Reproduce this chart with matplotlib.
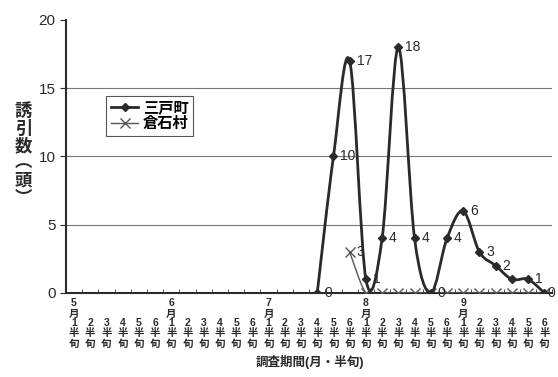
import matplotlib.pyplot as plt
import numpy as np
from matplotlib.path import Path
from matplotlib.patches import PathPatch
from matplotlib.lines import Line2D

plt.rcParams['font.family'] = ['Liberation Sans', 'Noto Sans CJK JP', 'DejaVu Sans']

months = ["5", "6", "7", "8", "9"]
halves = ["1", "2", "3", "4", "5", "6"]

# 半旬 index 0 = 5月1半旬 ... 29 = 9月6半旬
sannohe_start = 15
sannohe = [0, 10, 17, 1, 4, 18, 4, 0, 4, 6, 3, 2, 1, 1, 0]
sannohe_labels = ["0", "10", "17", "1", "4", "18", "4", "0", "4", "6", "3", "2", "", "1", "0"]

kuraishi_start = 17
kuraishi = [3, 0, 0, 0, 0, 0, 0, 0, 0, 0, 0, 0, 0]

INK = "#2a2a2a"


def smooth_path(xs, ys):
    # Bezier smoothing in the style of office chart "smoothed line"
    pts = np.column_stack([xs, ys]).astype(float)
    n = len(pts)
    verts = [pts[0]]
    codes = [Path.MOVETO]
    for i in range(n - 1):
        p0 = pts[i - 1] if i > 0 else pts[i]
        p1 = pts[i]
        p2 = pts[i + 1]
        p3 = pts[i + 2] if i + 2 < n else pts[i + 1]
        c1 = p1 + (p2 - p0) / 6.0
        c2 = p2 - (p3 - p1) / 6.0
        verts += [c1, c2, p2]
        codes += [Path.CURVE4] * 3
    return Path(verts, codes)


fig = plt.figure(figsize=(5.58, 3.77), dpi=100)
ax = fig.add_axes([0.118, 0.223, 0.872, 0.724])

x1 = np.arange(sannohe_start, sannohe_start + len(sannohe))
x2 = np.arange(kuraishi_start, kuraishi_start + len(kuraishi))

ax.add_patch(PathPatch(smooth_path(x2, kuraishi), fill=False, ec="#555555", lw=1.0, zorder=3))
ax.plot(x2, kuraishi, ls="none", marker="x", ms=7, mew=1.0, color="#555555", zorder=4)

ax.add_patch(PathPatch(smooth_path(x1, sannohe), fill=False, ec=INK, lw=2.0, zorder=5))
ax.plot(x1, sannohe, ls="none", marker="D", ms=4, color=INK, zorder=6)

for x, y, s in zip(x1, sannohe, sannohe_labels):
    if s:
        off = 2 if x == x1[-1] else 5
        ax.annotate(s, (x, y), xytext=(off, 0), textcoords="offset points",
                    ha="left", va="center", fontsize=10, color=INK, zorder=7,
                    annotation_clip=False)
ax.annotate(str(kuraishi[0]), (x2[0], kuraishi[0]), xytext=(5, 0),
            textcoords="offset points", ha="left", va="center", fontsize=10,
            color=INK, zorder=2)

ax.set_xlim(-0.5, 29.5)
ax.set_ylim(0, 20)
ax.set_yticks([0, 5, 10, 15, 20])
ax.tick_params(axis="y", labelsize=11, length=4, direction="out", colors=INK)
for y in (5, 10, 15):
    ax.axhline(y, color="#777777", lw=0.8, zorder=1)

labels = []
for m in months:
    for h in halves:
        top = f"{m}\n月" if h == "1" else "\n"
        labels.append(f"{top}\n{h}\n半\n旬")
ax.set_xticks(np.arange(30))
ax.set_xticklabels(labels, fontsize=7.5, fontweight="bold", linespacing=1.0, color=INK)
ax.tick_params(axis="x", length=0, pad=4)
ax.set_xticks(np.arange(30) + 0.5, minor=True)
ax.tick_params(axis="x", which="minor", length=3, direction="in", colors=INK)

for side in ("top", "right"):
    ax.spines[side].set_visible(False)
ax.spines["left"].set_linewidth(1.5)
ax.spines["bottom"].set_linewidth(1.5)
ax.spines["left"].set_color(INK)
ax.spines["bottom"].set_color(INK)

fig.text(0.042, 0.59, "誘\n引\n数\n︵\n頭\n︶", ha="center", va="center",
         fontsize=12.5, fontweight="bold", linespacing=0.95, color=INK,
         family=["Noto Sans CJK JP"])
fig.text(0.555, 0.04, "調査期間(月・半旬)", ha="center", va="center",
         fontsize=9, fontweight="bold", color=INK)

handles = [
    Line2D([], [], color=INK, lw=2, marker="D", ms=4),
    Line2D([], [], color="#555555", lw=1, marker="x", ms=7),
]
leg = ax.legend(handles, ["三戸町", "倉石村"], loc="upper left",
                bbox_to_anchor=(0.083, 0.72), fontsize=11, frameon=True,
                fancybox=False, handlelength=1.8, handletextpad=0.3,
                borderpad=0.3, labelspacing=0.15, borderaxespad=0)
leg.get_frame().set_edgecolor(INK)
leg.get_frame().set_linewidth(0.8)
for t in leg.get_texts():
    t.set_fontweight("bold")

fig.savefig("out.png", dpi=100)
